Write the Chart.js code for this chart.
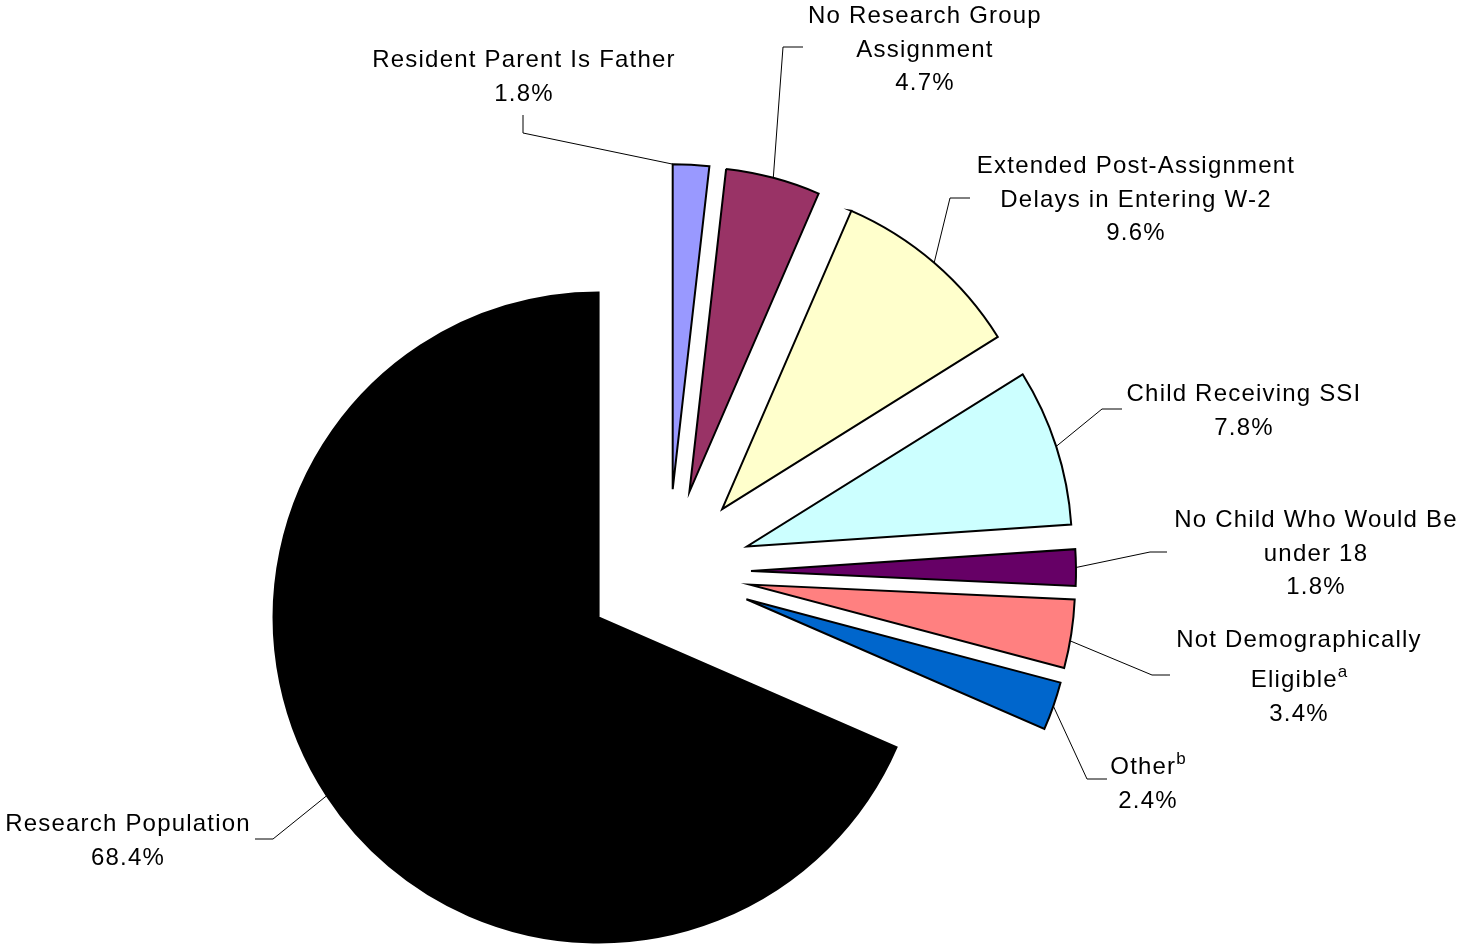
<!DOCTYPE html>
<html><head><meta charset="utf-8">
<script src="https://cdn.jsdelivr.net/npm/chart.js@4.4.1/dist/chart.umd.min.js"></script>
<style>html,body{margin:0;padding:0;background:#fff;overflow:hidden;} #wrap{width:1463px;height:947px;position:relative;}</style>
</head><body><div id="wrap"><canvas id="c"></canvas></div>
<script>
// ---- data ----
const categories = [
  ['Resident Parent Is Father'],
  ['No Research Group', 'Assignment'],
  ['Extended Post-Assignment', 'Delays in Entering W-2'],
  ['Child Receiving SSI'],
  ['No Child Who Would Be', 'under 18'],
  ['Not Demographically', 'Eligible'],
  ['Other'],
  ['Research Population']
];
const footnotes = ['', '', '', '', '', 'a', 'b', ''];
const shares = [1.8, 4.7, 9.6, 7.8, 1.8, 3.4, 2.4, 68.4];
const sliceColors = ['#9999FF', '#993366', '#FFFFCC', '#CCFFFF', '#660066', '#FF8080', '#0066CC', '#000000'];

// ---- label layout (relative to pie centre) ----
const labelPos = [
  {cx: -144, by: -505, frac: 0.0, elbow: [-145, -439], end: [-145, -457]},
  {cx: 257, by: -549, frac: 0.5, elbow: [115, -525], end: [135, -525]},
  {cx: 468, by: -399, frac: 0.5, elbow: [282, -374], end: [302, -374]},
  {cx: 576, by: -171, frac: 0.5, elbow: [434, -163], end: [454, -163]},
  {cx: 648, by: -45, frac: 0.5, elbow: [482, -20], end: [499, -20]},
  {cx: 631, by: 75, frac: 0.6, elbow: [484, 103], end: [502, 103]},
  {cx: 480, by: 202, frac: 0.5, elbow: [419, 207], end: [439, 207]},
  {cx: -540, by: 259, frac: 0.5, elbow: [-395, 267], end: [-413, 267]}
];
const EXPLODE = 83;
const FONT = '24px "Liberation Sans", Arial, sans-serif';
const SUPFONT = '17px "Liberation Sans", Arial, sans-serif';
const LINE_H = 33.5;

const explodedDraw = {
  id: 'explodedDraw',
  beforeDatasetDraw(chart, args) {
    const ctx = chart.ctx;
    args.meta.data.forEach(arc => {
      const mid = (arc.startAngle + arc.endAngle) / 2;
      ctx.save();
      ctx.translate(Math.cos(mid) * EXPLODE, Math.sin(mid) * EXPLODE);
      arc.draw(ctx);
      ctx.restore();
    });
    return false;
  },
  afterDraw(chart) {
    const ctx = chart.ctx;
    const meta = chart.getDatasetMeta(0);
    meta.data.forEach((arc, i) => {
      const L = labelPos[i];
      const cx0 = arc.x, cy0 = arc.y;
      const mid = (arc.startAngle + arc.endAngle) / 2;
      const a = arc.startAngle + (arc.endAngle - arc.startAngle) * L.frac;
      const ox = cx0 + Math.cos(mid) * EXPLODE, oy = cy0 + Math.sin(mid) * EXPLODE;
      const sx = ox + Math.cos(a) * arc.outerRadius, sy = oy + Math.sin(a) * arc.outerRadius;
      // leader line
      ctx.save();
      ctx.strokeStyle = '#000';
      ctx.lineWidth = 1;
      ctx.beginPath();
      ctx.moveTo(sx, sy);
      ctx.lineTo(cx0 + L.elbow[0], cy0 + L.elbow[1]);
      ctx.lineTo(cx0 + L.end[0], cy0 + L.end[1]);
      ctx.stroke();
      ctx.restore();
      // text
      const lines = categories[i].map((t, k) => ({t, sup: k === categories[i].length - 1 ? footnotes[i] : ''}));
      lines.push({t: shares[i].toFixed(1) + '%', sup: ''});
      ctx.save();
      ctx.fillStyle = '#000';
      ctx.textBaseline = 'alphabetic';
      ctx.textAlign = 'left';
      let y = cy0 + L.by;
      lines.forEach((ln, k) => {
        if (k > 0) y += LINE_H + (ln.sup ? 6.5 : 0);
        ctx.font = FONT;
        ctx.letterSpacing = '1.2px';
        const w = ctx.measureText(ln.t).width;
        let ws = 0;
        if (ln.sup) { ctx.font = SUPFONT; ctx.letterSpacing = '0px'; ws = ctx.measureText(ln.sup).width; }
        const x = cx0 + L.cx - (w + ws) / 2;
        ctx.font = FONT; ctx.letterSpacing = '1.2px';
        ctx.fillText(ln.t, x, y);
        if (ln.sup) { ctx.font = SUPFONT; ctx.letterSpacing = '0px'; ctx.fillText(ln.sup, x + w, y - 10); }
      });
      ctx.restore();
    });
  }
};

new Chart(document.getElementById('c'), {
  type: 'pie',
  data: {
    labels: categories,
    datasets: [{
      data: shares,
      backgroundColor: sliceColors,
      borderColor: '#000000',
      borderWidth: 2,
      borderJoinStyle: 'miter',
      offset: 0,
      hoverOffset: 0
    }]
  },
  options: {
    responsive: true,
    maintainAspectRatio: false,
    animation: false,
    radius: 325,
    layout: {padding: {top: 197, bottom: 0, left: 0, right: 127}},
    plugins: {legend: {display: false}, tooltip: {enabled: false}}
  },
  plugins: [explodedDraw]
});
</script>
</body></html>
